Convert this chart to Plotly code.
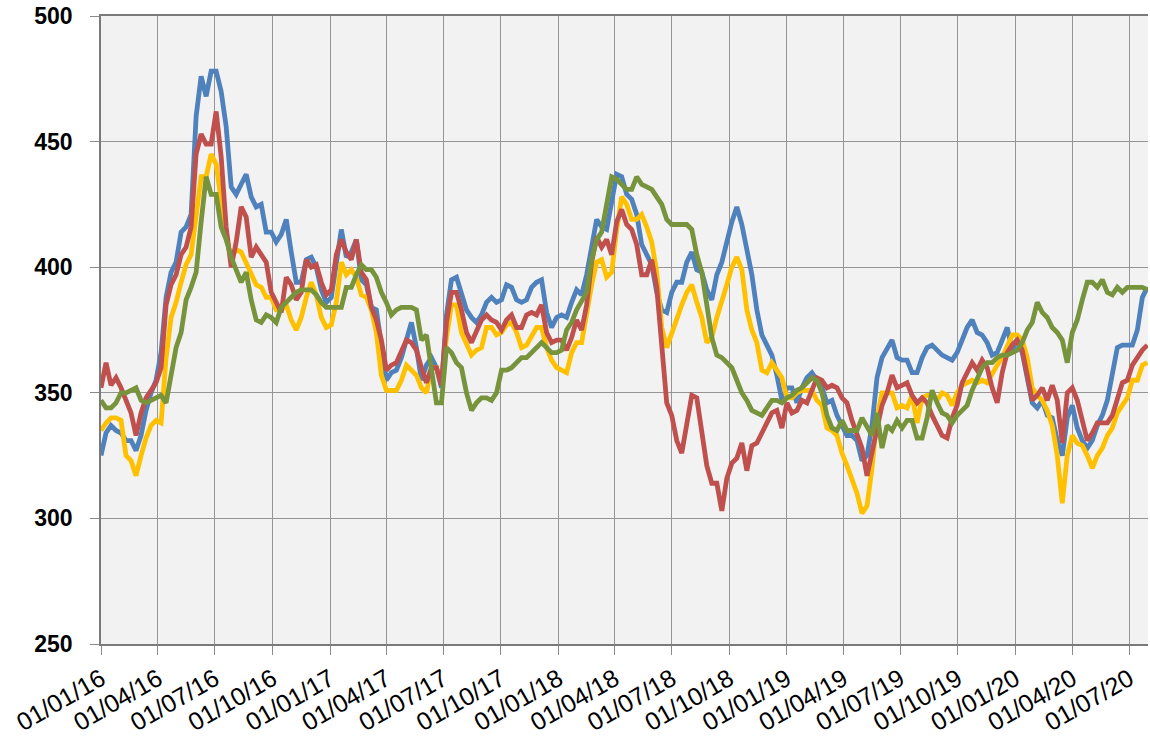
import pandas as pd
import plotly.graph_objects as go

START = "2016-01-01"
STEP = "8D"

blue = [
    325, 334, 337, 335, 334, 331, 331, 327, 333, 343,
    350, 355, 366, 388, 398, 402, 414, 416, 421, 460,
    476, 468, 478, 478, 470, 456, 432, 429, 433, 437,
    428, 424, 425,
    414, 414, 410, 413, 419, 406, 394,
    394, 403, 404, 400, 391, 386, 388, 403, 415, 404,
    406, 411, 395, 393, 384, 383, 368, 355, 358, 359,
    364, 371, 378, 368, 355, 361, 364, 360, 352,
    381, 395, 396, 389, 383, 380, 378, 381, 386, 388, 386,
    387, 393, 392, 387, 386, 387, 392, 394, 395, 382,
    376, 380, 381, 380, 386, 391, 389, 397, 408, 419,
    416, 415,
    426, 437, 436, 429, 427, 421, 409, 405,
    401, 390, 383, 382, 390, 394, 394, 402, 406, 399,
    398, 391, 387, 397, 402, 410, 418, 424, 417, 407,
    397, 383, 373, 369, 365, 357,
    347, 352, 352, 346,
    352, 356, 358, 355, 352, 346, 347, 341, 337, 333,
    333, 331, 323, 325, 337, 356, 364, 368, 371, 364,
    363, 363, 358, 358, 364, 368, 369, 367, 365, 364, 363, 366,
    371, 376, 379, 374, 373, 370, 365, 366,
    371, 376, 367, 371, 366, 355, 346, 344, 347, 341,
    340, 331, 325, 340, 345, 336, 331, 328, 331, 337,
    341, 347, 357, 368, 369, 369, 369, 375, 388, 392,
]

red = [
    352, 362, 353, 356, 352, 347, 342, 333, 342, 348,
    351, 354, 360, 385, 393, 397, 405, 408, 416, 445,
    453, 449, 449, 462, 444, 416, 400, 410, 424, 420,
    404, 408, 405,
    402, 390, 386, 382, 396, 393, 387,
    390, 403, 400, 401, 394, 389, 391, 405, 411, 406,
    403, 411, 398, 395, 384, 379, 371, 359, 361, 362,
    366, 371, 370, 367, 360, 354, 360, 360, 353,
    378, 390, 390, 383, 374, 370, 374, 379, 381, 379, 378,
    375, 379, 381, 376, 376, 381, 382, 381, 385, 374,
    370, 371, 371, 367, 372, 379, 375, 385, 402, 412,
    408, 411,
    405, 418, 423, 417, 415, 409, 397, 397,
    403, 392, 366, 346, 341, 331, 326, 338, 349, 348,
    333, 321, 314, 314, 303, 316, 322, 324, 330, 319,
    329, 330, 334, 338, 342, 343,
    336, 346, 342, 343,
    347, 346, 351, 356, 355, 352, 353, 352, 348, 346,
    339, 334, 328, 317, 326, 337, 345, 350, 357, 352,
    353, 354, 349, 346, 348, 346, 341, 337, 333, 332, 340, 345,
    354, 358, 362, 359, 363, 360, 352, 346,
    358, 366, 369, 371, 367, 357, 347, 349, 352, 347,
    353, 347, 330, 350, 352, 347, 338, 331, 334, 338,
    338, 338, 341, 348, 354, 355, 361, 364, 367, 369,
]

yellow = [
    335, 338, 340, 340, 339, 325, 323, 317, 325, 332,
    337, 339, 338, 364, 380, 386, 394, 401, 405, 420,
    436, 436, 445, 441, 425, 412, 404, 407, 406, 402,
    397, 393, 392,
    388, 388, 383, 383, 385, 379, 375,
    380, 388, 394, 389, 380, 376, 377, 386, 402, 397,
    399, 396, 389, 388, 383, 374, 357, 351, 351, 351,
    355, 361, 359, 357, 352, 350, 360, 360, 354,
    372, 385, 385, 374, 369, 365, 367, 368, 376, 376, 373,
    374, 377, 378, 374, 368, 369, 373, 376, 376, 368,
    363, 360, 359, 358, 366, 370, 370, 382, 393, 402,
    403, 396,
    398, 415, 428, 425, 419, 419, 421, 416,
    410, 398, 376, 368, 374, 380, 385, 390, 393, 386,
    380, 370, 372, 380, 386, 393, 400, 404, 399, 383,
    375, 370, 359, 358, 362, 359,
    356, 348, 348, 350,
    351, 351, 351, 347, 345, 336, 335, 333, 326, 321,
    316, 310, 302, 305, 320, 340, 350, 350, 350, 344,
    345, 344, 349, 338, 348, 349, 349, 347, 350, 349, 345, 350,
    353, 354, 355, 354, 355, 354, 358, 361,
    364, 369, 373, 373, 371, 364, 352, 349, 347, 343,
    337, 325, 306, 325, 333, 330, 329, 325, 320, 325,
    328, 333, 336, 342, 345, 348, 355, 355, 361, 362,
]

green = [
    347, 344, 344, 346, 350, 350, 351, 352, 347, 346,
    347, 348, 349, 346, 358, 368, 374, 387, 392, 398,
    418, 436, 429, 429, 416, 411, 404, 399, 394, 398,
    387, 379, 378,
    381, 380, 378, 384, 386, 388, 390,
    391, 391, 391, 389, 386, 384, 384, 384, 384, 392,
    392, 397, 401, 399, 399, 396, 390, 386, 381, 383,
    384, 384, 384, 383, 371, 373, 360, 346, 346,
    368, 366, 362, 360, 350, 343, 346, 348, 348, 347, 350,
    359, 359, 360, 362, 364, 364, 366, 368, 370, 368,
    366, 366, 367, 375, 378, 383, 387, 390, 403, 411,
    414, 425,
    436, 435, 433, 431, 431, 436, 433, 432,
    431, 428, 425, 419, 417, 417, 417, 417, 415, 405,
    398, 384, 372, 365, 364, 362, 360, 355, 350, 347,
    343, 342, 341, 344, 347, 347,
    346, 348, 349, 351,
    352, 354, 356, 355, 350, 341, 336, 335, 339, 335,
    335, 335, 340, 336, 333, 342, 328, 337, 335, 339,
    336, 339, 339, 332, 332, 340, 351, 346, 342, 341, 338, 341,
    343, 345, 351, 355, 360, 362, 362, 364,
    365, 365, 366, 367, 370, 375, 378, 386, 382, 380,
    376, 374, 371, 362, 374, 379, 387, 394, 394, 392,
    395, 390, 389, 392, 390, 392, 392, 392, 392, 391,
]

tick_dates = pd.date_range("2016-01-01", "2020-07-01", freq="3MS")
tick_text = [d.strftime("%d/%m/%y") for d in tick_dates]
y_ticks = [250, 300, 350, 400, 450, 500]

series = [
    ("Blue", blue, "#4F81BD"),
    ("Yellow", yellow, "#FFC000"),
    ("Red", red, "#C0504D"),
    ("Green", green, "#77933C"),
]

fig = go.Figure()
for name, vals, col in series:
    dates = pd.date_range(START, periods=len(vals), freq=STEP)
    fig.add_trace(go.Scatter(
        x=dates, y=vals, mode="lines", name=name,
        line=dict(color=col, width=4.8),
    ))

FONT = "Liberation Sans"
fig.update_layout(
    width=1150, height=741,
    margin=dict(l=101, r=2, t=16, b=97, autoexpand=False),
    paper_bgcolor="white",
    plot_bgcolor="#F2F2F2",
    showlegend=False,
    font=dict(family=FONT, color="black"),
)
fig.update_xaxes(
    range=["2016-01-01", "2020-07-31"],
    tickvals=tick_dates, ticktext=tick_text,
    tickangle=-30,
    tickfont=dict(family=FONT, size=25, color="black"),
    showgrid=True, gridcolor="#959595", gridwidth=1.2,
    ticks="outside", ticklen=9, tickcolor="#8a8a8a", tickwidth=1.2,
    showline=True, linecolor="#7a7a7a", linewidth=1.5, mirror=True,
    zeroline=False, automargin=False,
)
fig.update_yaxes(
    range=[250, 500],
    tickvals=y_ticks,
    tickfont=dict(family=FONT, size=23, color="black", weight="bold"),
    showgrid=True, gridcolor="#959595", gridwidth=1.2,
    ticks="outside", ticklen=9, tickcolor="#8a8a8a", tickwidth=1.2,
    showline=True, linecolor="#7a7a7a", linewidth=1.5,
    zeroline=False, automargin=False,
    ticklabelstandoff=13,
)

fig.write_html(
    "out.html",
    config={"displayModeBar": False},
    post_script="document.body.style.margin='0px';document.body.style.overflow='hidden';",
)
